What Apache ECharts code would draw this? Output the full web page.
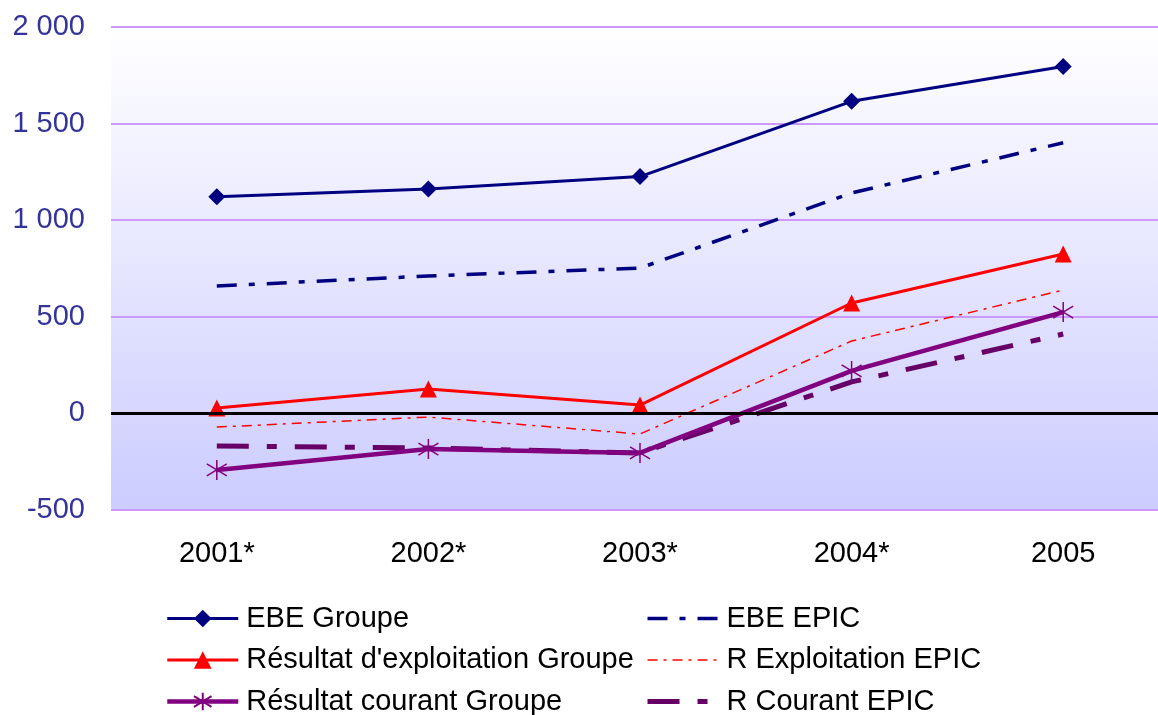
<!DOCTYPE html>
<html>
<head>
<meta charset="utf-8">
<script src="https://cdn.jsdelivr.net/npm/echarts@6/dist/echarts.min.js"></script>
<style>
  html, body { margin: 0; padding: 0; background: #fff; overflow: hidden; }
  /* plot runs a little past the right edge of the window, as in the original */
  #chart { width: 1169px; height: 715px; }
</style>
</head>
<body>
<div id="chart"></div>
<script>
const years = ["2001*", "2002*", "2003*", "2004*", "2005"];
const ebeGroupe = [1120, 1160, 1225, 1615, 1795];
const ebeEpic = [658, 710, 751, 1140, 1400];
const rExploitGroupe = [26, 124, 41, 570, 824];
const rExploitEpic = [-73, -21, -109, 373, 637];
const rCourantGroupe = [-295, -187, -207, 218, 523];
const rCourantEpic = [-171, -181, -207, 161, 409];

const FONT = "Liberation Sans";
const starPath = "path://M0,-10L0,10M-10,-6L10,6M-10,6L10,-6";

const chart = echarts.init(document.getElementById("chart"));

// thousands with a space: 2 000
const fmt = (v) => {
  const s = String(Math.abs(v)).replace(/\B(?=(\d{3})+(?!\d))/g, " ");
  return (v < 0 ? "-" : "") + s;
};

const legendCommon = {
  orient: "vertical",
  top: 599,
  height: 125,
  itemWidth: 71,
  itemHeight: 22,
  itemGap: 12.5,
  lineStyle: { width: "inherit" },
  textStyle: { fontFamily: FONT, fontSize: 29, color: "#000", lineHeight: 29, padding: [0, 0, 0, 3] },
  selectedMode: false
};
// dashed series have no marker; hide the symbol in their legend icon
const noMark = (name) => ({ name: name, itemStyle: { opacity: 0 } });

chart.setOption({
  animation: false,
  grid: {
    left: 111, right: 0, top: 27, bottom: 205.5,
    show: true,
    borderWidth: 0,
    backgroundColor: new echarts.graphic.LinearGradient(0, 0, 0, 1, [
      { offset: 0, color: "#ffffff" },
      { offset: 1, color: "#ccccff" }
    ])
  },
  legend: [
    Object.assign({ left: 160, data: ["EBE Groupe", "Résultat d'exploitation Groupe", "Résultat courant Groupe"] }, legendCommon),
    Object.assign({ left: 640, data: [noMark("EBE EPIC"), noMark("R Exploitation EPIC"), noMark("R Courant EPIC")] }, legendCommon)
  ],
  xAxis: {
    type: "category",
    data: years,
    boundaryGap: true,
    axisLine: { show: false },
    axisTick: { show: false },
    axisLabel: { fontFamily: FONT, fontSize: 29, color: "#000", margin: 30 }
  },
  yAxis: {
    type: "value",
    min: -500,
    max: 2000,
    interval: 500,
    axisLine: { show: false },
    axisTick: { show: false },
    axisLabel: { fontFamily: FONT, fontSize: 29, color: "#333399", margin: 26, formatter: fmt },
    splitLine: { lineStyle: { color: "#cc99ff", width: 2 } }
  },
  series: [
    {
      name: "EBE Groupe", type: "line", data: ebeGroupe,
      symbol: "diamond", symbolSize: 17,
      itemStyle: { color: "#000080" },
      lineStyle: { color: "#000080", width: 3 },
      markLine: {
        silent: true, symbol: "none", label: { show: false },
        lineStyle: { color: "#000", width: 3, type: "solid" },
        data: [{ yAxis: 0 }]
      }
    },
    {
      name: "EBE EPIC", type: "line", data: ebeEpic,
      symbol: "none",
      itemStyle: { color: "#000080" },
      lineStyle: { color: "#000080", width: 3.5, type: [20, 12, 6, 12] }
    },
    {
      name: "Résultat d'exploitation Groupe", type: "line", data: rExploitGroupe,
      symbol: "triangle", symbolSize: 17,
      itemStyle: { color: "#ff0000" },
      lineStyle: { color: "#ff0000", width: 3 }
    },
    {
      name: "R Exploitation EPIC", type: "line", data: rExploitEpic,
      symbol: "none",
      itemStyle: { color: "#ff0000" },
      lineStyle: { color: "#ff0000", width: 1.5, type: [10, 6, 3, 6] }
    },
    {
      name: "R Courant EPIC", type: "line", data: rCourantEpic,
      symbol: "none",
      itemStyle: { color: "#660066" },
      lineStyle: { color: "#660066", width: 5, type: [32, 18, 10, 18] }
    },
    {
      name: "Résultat courant Groupe", type: "line", data: rCourantGroupe,
      symbol: starPath, symbolSize: 20,
      itemStyle: { color: "transparent", borderColor: "#800080", borderWidth: 1.5 },
      lineStyle: { color: "#800080", width: 4.5 }
    }
  ]
});
</script>
</body>
</html>
